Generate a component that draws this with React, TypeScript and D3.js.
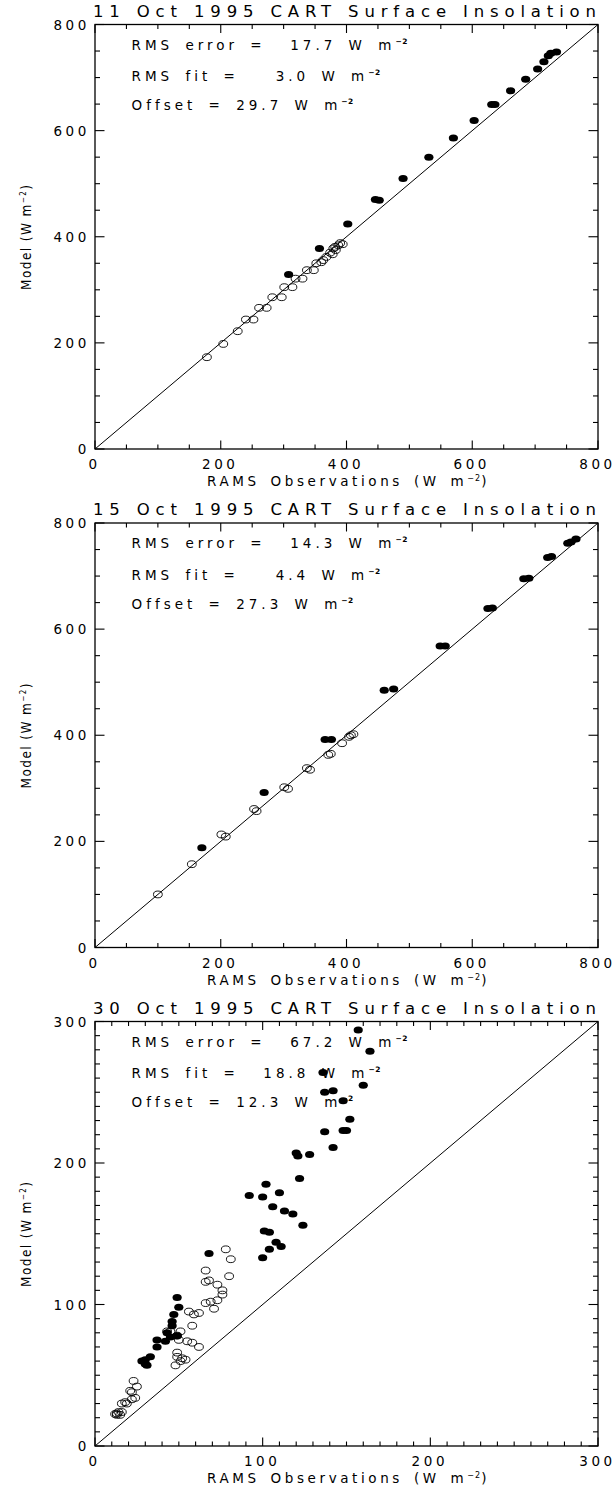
import * as d3 from 'd3';
import React from 'react';

type Pt = [number, number];

// panel titles and statistics as printed on the figure
const titles = [
  '11 Oct 1995 CART Surface Insolation',
  '15 Oct 1995 CART Surface Insolation',
  '30 Oct 1995 CART Surface Insolation',
];
const statLabels = ['RMS error', 'RMS fit', 'Offset'];
const statWidths = [6, 6, 5];
const oct11Stats = ['17.7', '3.0', '29.7'];
const oct15Stats = ['14.3', '4.4', '27.3'];
const oct30Stats = ['67.2', '18.8', '12.3'];

// axis extents and tick steps
const axisMax = [800, 800, 300];
const majorStep = [200, 200, 100];
const minorStep = [50, 50, 10];

// [observed, model] pairs; filled = later (clear-sky) hours, open = morning
const oct11Filled: Pt[] = [
  [734, 748], [725, 746], [721, 741], [714, 730], [704, 716], [685, 697],
  [661, 675], [636, 649], [631, 649], [603, 619], [570, 586], [531, 550],
  [490, 510], [452, 469], [446, 470], [402, 424], [357, 378], [308, 329],
];
const oct11Open: Pt[] = [
  [390, 388], [394, 386], [387, 384], [382, 381], [379, 378], [383, 375],
  [374, 370], [378, 367], [368, 362], [363, 356], [360, 352], [352, 350],
  [348, 337], [337, 337], [330, 321], [319, 321], [314, 305], [301, 305],
  [297, 286], [282, 286], [273, 266], [261, 266], [252, 244], [240, 244],
  [227, 222], [204, 198], [178, 173],
];

const oct15Filled: Pt[] = [
  [765, 770], [757, 764], [752, 762], [726, 737], [720, 735], [690, 696],
  [682, 695], [632, 640], [625, 639], [557, 568], [549, 568], [475, 487],
  [460, 485], [376, 392], [366, 392], [269, 292], [170, 188],
];
const oct15Open: Pt[] = [
  [411, 402], [407, 400], [404, 397], [393, 385], [375, 365], [371, 363],
  [342, 335], [337, 338], [307, 299], [301, 302], [257, 257], [253, 261],
  [208, 209], [201, 213], [154, 157], [100, 100],
];

const oct30Filled: Pt[] = [
  [157, 294], [164, 279], [160, 255], [137, 250], [142, 251], [136, 264],
  [148, 244], [152, 231], [137, 222], [148, 223], [150, 223], [142, 211],
  [120, 207], [121, 205], [128, 206], [122, 189], [102, 185], [92, 177],
  [100, 176], [110, 179], [106, 169], [113, 166], [118, 164], [124, 156],
  [101, 152], [104, 151], [108, 144], [111, 141], [104, 139], [100, 133],
  [68, 136], [49, 105], [50, 98], [47, 93], [46, 88], [46, 85], [49, 78],
  [43, 80], [45, 77], [42, 74], [37, 75], [37, 70], [33, 63], [30, 61],
  [28, 60], [31, 57], [30, 58],
];
const oct30Open: Pt[] = [
  [78, 139], [81, 132], [66, 124], [80, 120], [66, 116], [68, 117],
  [73, 114], [76, 110], [76, 107], [73, 103], [69, 102], [66, 101],
  [71, 97], [56, 95], [59, 93], [62, 94], [58, 85], [43, 81], [45, 81],
  [51, 81], [49, 78], [50, 75], [55, 74], [58, 73], [62, 70], [49, 66],
  [49, 63], [52, 62], [54, 61], [51, 60], [48, 57], [23, 46], [25, 42],
  [21, 39], [22, 38], [24, 34], [22, 33], [18, 31], [16, 30], [19, 30],
  [14, 24], [13, 23], [12, 22.6], [15, 22], [13, 22], [16, 24],
];

const panelStats = [oct11Stats, oct15Stats, oct30Stats];
const panelFilled = [oct11Filled, oct15Filled, oct30Filled];
const panelOpen = [oct11Open, oct15Open, oct30Open];

const W = 615;
const H = 1488;
const LEFT = 95;
const RIGHT = 598;
const PH = 424.5;
const TOPS = [24.5, 523, 1021.5];
const FONT = "'DejaVu Sans', sans-serif";

function Panel({ idx }: { idx: number }) {
  const top = TOPS[idx];
  const bottom = top + PH;
  const max = axisMax[idx];
  const x = d3.scaleLinear().domain([0, max]).range([LEFT, RIGHT]);
  const y = d3.scaleLinear().domain([0, max]).range([bottom, top]);
  const minors = d3.range(0, max + 0.001, minorStep[idx]);
  const majors = d3.range(0, max + 0.001, majorStep[idx]);
  const isMajor = (v: number) => Math.abs(v / majorStep[idx] - Math.round(v / majorStep[idx])) < 1e-6;

  const lineOffsets = [25, 56.5, 85.5];

  return (
    <g>
      {/* title */}
      <text
        x={(LEFT + RIGHT) / 2 - 2}
        y={top - 8}
        textAnchor="middle"
        fontSize={16.5}
        textLength={503}
        lengthAdjust="spacing"
      >
        {titles[idx]}
      </text>

      {/* frame */}
      <rect x={LEFT} y={top} width={RIGHT - LEFT} height={PH} fill="none" stroke="#000" strokeWidth={1.3} />

      {/* ticks */}
      {minors.map((v) => {
        const lx = isMajor(v) ? 8.5 : 4.5;
        const ly = isMajor(v) ? 9.5 : 5;
        return (
          <g key={v} stroke="#000" strokeWidth={1.1}>
            <line x1={x(v)} x2={x(v)} y1={bottom} y2={bottom - lx} />
            <line x1={x(v)} x2={x(v)} y1={top} y2={top + lx} />
            <line x1={LEFT} x2={LEFT + ly} y1={y(v)} y2={y(v)} />
            <line x1={RIGHT} x2={RIGHT - ly} y1={y(v)} y2={y(v)} />
          </g>
        );
      })}

      {/* tick labels */}
      {majors.map((v) => (
        <g key={v} fontSize={13.5} letterSpacing={3.6}>
          <text x={x(v) - 0.5} y={bottom + 20} textAnchor="middle">{v}</text>
          <text x={LEFT - 5} y={y(v) + 5} textAnchor="end">{v}</text>
        </g>
      ))}

      {/* axis titles */}
      <text x={(LEFT + RIGHT) / 2 + 2} y={bottom + 37} textAnchor="middle" fontSize={13.5} letterSpacing={3.6} wordSpacing={3}>
        RAMS Observations (W m
        <tspan dy={-5} fontSize={8} letterSpacing={1}>−2</tspan>
        <tspan dy={5}>)</tspan>
      </text>
      <text
        transform={`translate(31,${(top + bottom) / 2}) rotate(-90)`}
        textAnchor="middle"
        fontSize={13.5}
        fontFamily="'DejaVu Sans Condensed', 'Liberation Sans Narrow', 'Liberation Sans', sans-serif"
        letterSpacing={1.4}
      >
        Model (W m
        <tspan dy={-5} fontSize={8}>−2</tspan>
        <tspan dy={5}>)</tspan>
      </text>

      {/* statistics */}
      {statLabels.map((lab, i) => (
        <text
          key={lab}
          x={LEFT + 36.5}
          y={top + lineOffsets[i]}
          fontSize={13.5}
          letterSpacing={4}
          wordSpacing={4}
          style={{ whiteSpace: 'pre' }}
        >
          {`${lab} =${panelStats[idx][i].padStart(statWidths[i])} W m`}
          <tspan dy={-6} fontSize={7.5} fontWeight="bold" letterSpacing={0.5}>−2</tspan>
        </text>
      ))}

      {/* 1:1 line */}
      <line x1={x(0)} y1={y(0)} x2={x(max)} y2={y(max)} stroke="#000" strokeWidth={1} />

      {/* points */}
      {panelOpen[idx].map((d, i) => (
        <ellipse key={`o${i}`} cx={x(d[0])} cy={y(d[1])} rx={4.4} ry={3.4} fill="none" stroke="#000" strokeWidth={0.9} />
      ))}
      {panelFilled[idx].map((d, i) => (
        <ellipse key={`f${i}`} cx={x(d[0])} cy={y(d[1])} rx={4.6} ry={3.5} fill="#000" />
      ))}
    </g>
  );
}

export default function App() {
  return (
    <svg
      width={W}
      height={H}
      viewBox={`0 0 ${W} ${H}`}
      style={{ position: 'absolute', left: 0, top: 0, background: '#fff' }}
      fontFamily={FONT}
    >
      <rect width={W} height={H} fill="#fff" />
      {[0, 1, 2].map((i) => (
        <Panel key={i} idx={i} />
      ))}
    </svg>
  );
}
